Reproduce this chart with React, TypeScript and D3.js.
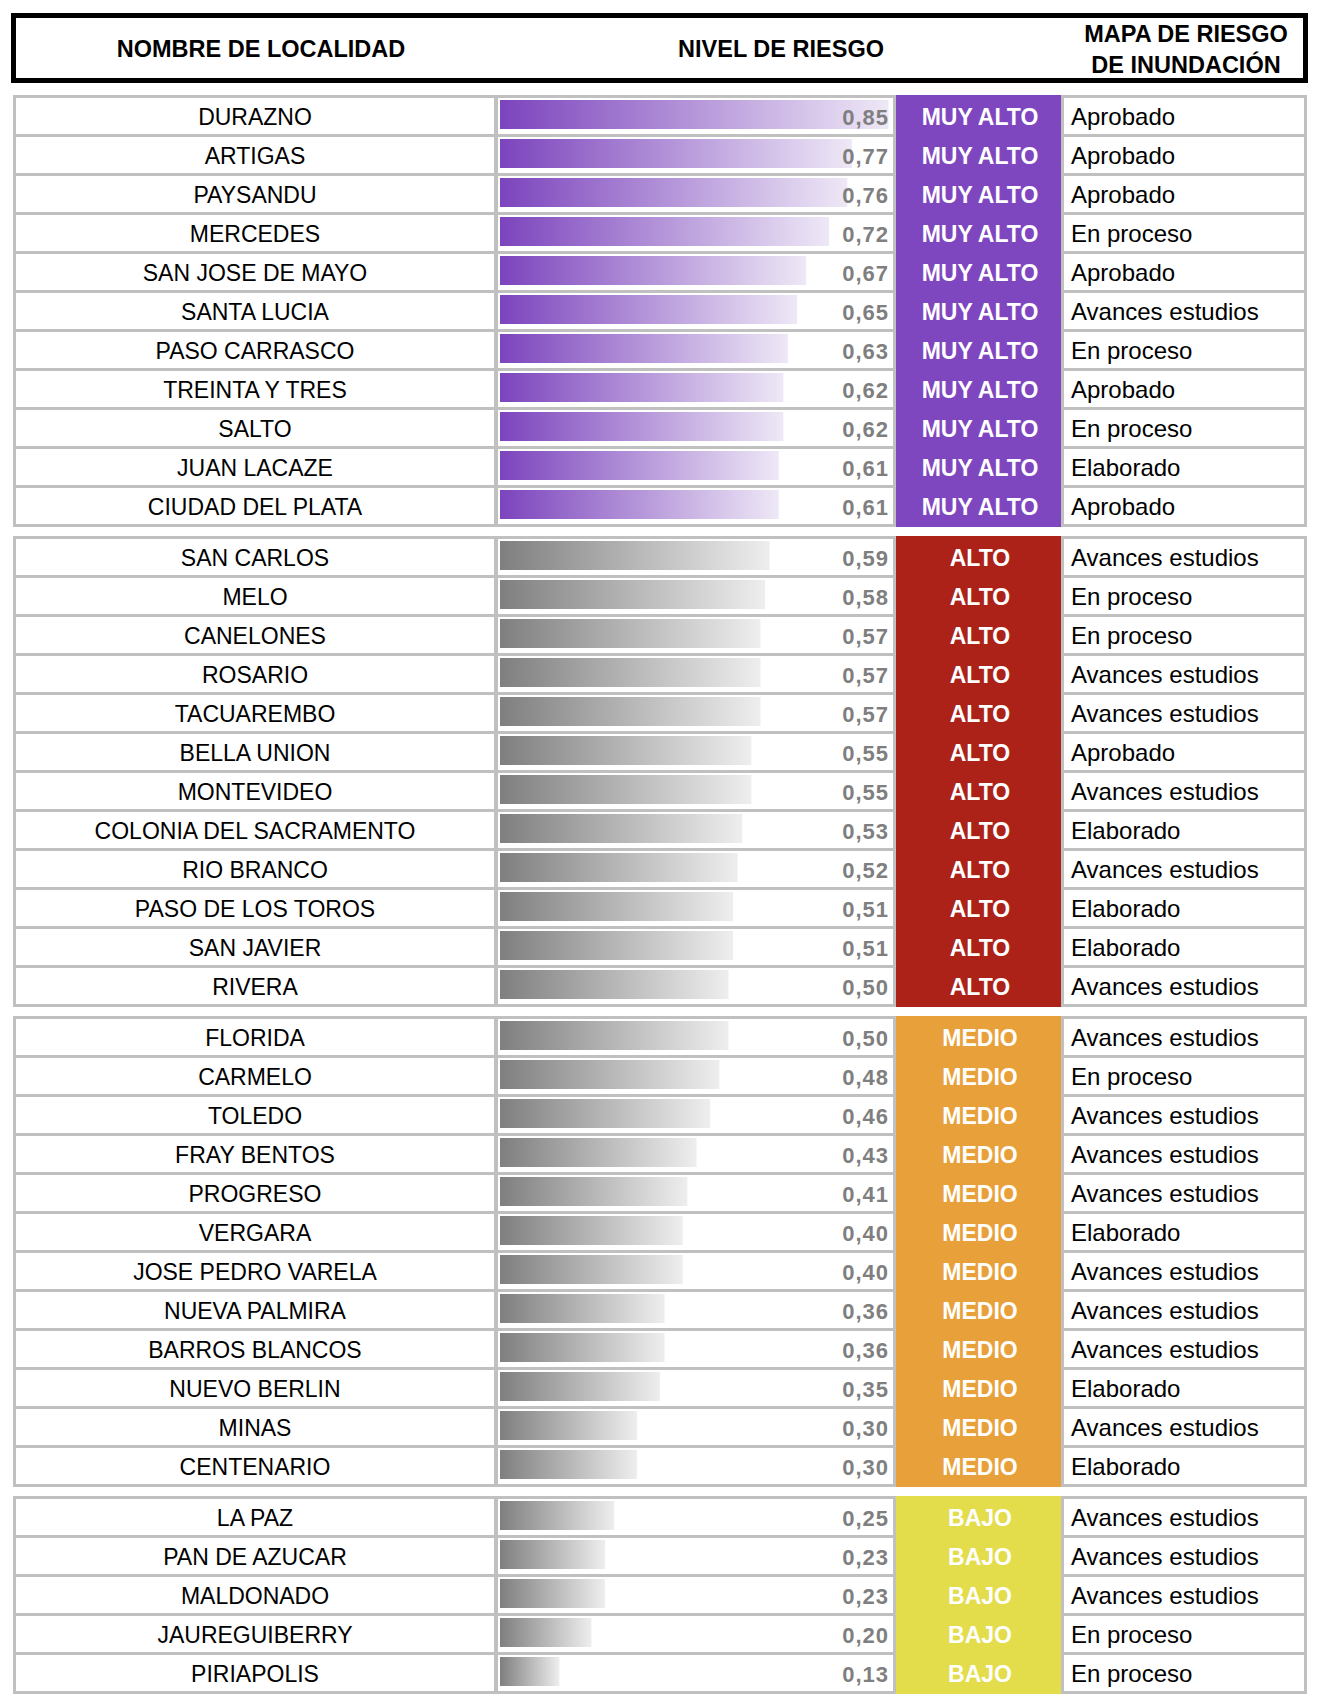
import React from "react";
import * as d3 from "d3";

const localidades = [
  "DURAZNO", "ARTIGAS", "PAYSANDU", "MERCEDES", "SAN JOSE DE MAYO", "SANTA LUCIA",
  "PASO CARRASCO", "TREINTA Y TRES", "SALTO", "JUAN LACAZE", "CIUDAD DEL PLATA",
  "SAN CARLOS", "MELO", "CANELONES", "ROSARIO", "TACUAREMBO", "BELLA UNION",
  "MONTEVIDEO", "COLONIA DEL SACRAMENTO", "RIO BRANCO", "PASO DE LOS TOROS",
  "SAN JAVIER", "RIVERA",
  "FLORIDA", "CARMELO", "TOLEDO", "FRAY BENTOS", "PROGRESO", "VERGARA",
  "JOSE PEDRO VARELA", "NUEVA PALMIRA", "BARROS BLANCOS", "NUEVO BERLIN", "MINAS",
  "CENTENARIO",
  "LA PAZ", "PAN DE AZUCAR", "MALDONADO", "JAUREGUIBERRY", "PIRIAPOLIS",
];

const valores = [
  0.85, 0.77, 0.76, 0.72, 0.67, 0.65, 0.63, 0.62, 0.62, 0.61, 0.61,
  0.59, 0.58, 0.57, 0.57, 0.57, 0.55, 0.55, 0.53, 0.52, 0.51, 0.51, 0.5,
  0.5, 0.48, 0.46, 0.43, 0.41, 0.4, 0.4, 0.36, 0.36, 0.35, 0.3, 0.3,
  0.25, 0.23, 0.23, 0.2, 0.13,
];

const niveles = [
  ...Array(11).fill("MUY ALTO"),
  ...Array(12).fill("ALTO"),
  ...Array(12).fill("MEDIO"),
  ...Array(5).fill("BAJO"),
];

const estados = [
  "Aprobado", "Aprobado", "Aprobado", "En proceso", "Aprobado", "Avances estudios",
  "En proceso", "Aprobado", "En proceso", "Elaborado", "Aprobado",
  "Avances estudios", "En proceso", "En proceso", "Avances estudios", "Avances estudios",
  "Aprobado", "Avances estudios", "Elaborado", "Avances estudios", "Elaborado",
  "Elaborado", "Avances estudios",
  "Avances estudios", "En proceso", "Avances estudios", "Avances estudios",
  "Avances estudios", "Elaborado", "Avances estudios", "Avances estudios",
  "Avances estudios", "Elaborado", "Avances estudios", "Elaborado",
  "Avances estudios", "Avances estudios", "Avances estudios", "En proceso", "En proceso",
];

const grupos = ["MUY ALTO", "ALTO", "MEDIO", "BAJO"];
const coloresNivel = ["#7F47BF", "#AC2218", "#E8A13A", "#E3DC4B"];

const W = 1322;
const H = 1706;
const FONT = "'Liberation Sans', Arial, sans-serif";
const ROW = 39;
const BORDER = 3;
const GAP = 9;
const TOP0 = 95;
const X0 = 13;
const X1 = 1307;
const NAME = [16, 494];
const BAR = [498, 893];
const LEVEL = [896, 1061];
const STATUS = [1064, 1304];
const GRAY = "#C0C0C0";

export default function App() {
  const color = d3.scaleOrdinal<string, string>().domain(grupos).range(coloresNivel);
  const x = d3.scaleLinear().domain([0, 1]).range([500, 500 + 457]);
  const fmt = (v: number) => d3.format(".2f")(v).replace(".", ",");

  const groupInfo: { level: string; start: number; count: number; top: number }[] = [];
  let top = TOP0;
  grupos.forEach((g) => {
    const idx = niveles.map((n, i) => (n === g ? i : -1)).filter((i) => i >= 0);
    groupInfo.push({ level: g, start: idx[0], count: idx.length, top });
    top += idx.length * ROW + BORDER + GAP;
  });

  const rowTop = (i: number) => {
    const gi = groupInfo.find((g) => i >= g.start && i < g.start + g.count)!;
    return gi.top + BORDER + (i - gi.start) * ROW;
  };
  const cellH = ROW - BORDER;

  return (
    <svg
      width={W}
      height={H}
      style={{ position: "absolute", left: 0, top: 0, display: "block", background: "#fff" }}
      fontFamily={FONT}
    >
      <defs>
        <linearGradient id="gPurple" x1="0" x2="1" y1="0" y2="0">
          <stop offset="0%" stopColor="#7C44BD" />
          <stop offset="100%" stopColor="#EEE8F6" />
        </linearGradient>
        <linearGradient id="gGray" x1="0" x2="1" y1="0" y2="0">
          <stop offset="0%" stopColor="#7F7F7F" />
          <stop offset="100%" stopColor="#EEEEEE" />
        </linearGradient>
      </defs>
      <rect width={W} height={H} fill="#fff" />

      <rect x={13.5} y={15.5} width={1292} height={65} fill="#fff" stroke="#000" strokeWidth={5} />
      <g fontWeight="bold" fontSize={23.5} fill="#000">
        <text x={261} y={57} textAnchor="middle">NOMBRE DE LOCALIDAD</text>
        <text x={781} y={57} textAnchor="middle">NIVEL DE RIESGO</text>
        <text x={1186} y={42} textAnchor="middle">MAPA DE RIESGO</text>
        <text x={1186} y={73} textAnchor="middle">DE INUNDACIÓN</text>
      </g>

      {groupInfo.map((g) => {
        const h = g.count * ROW + BORDER;
        return (
          <g key={g.level}>
            <rect x={X0} y={g.top} width={X1 - X0} height={h} fill={GRAY} />
            <rect x={LEVEL[0]} y={g.top} width={LEVEL[1] - LEVEL[0]} height={h} fill={color(g.level)} />
          </g>
        );
      })}

      {localidades.map((name, i) => {
        const y = rowTop(i);
        const cy = y + cellH / 2;
        const lvl = niveles[i];
        const isPurple = lvl === "MUY ALTO";
        return (
          <g key={name}>
            <rect x={NAME[0]} y={y} width={NAME[1] - NAME[0]} height={cellH} fill="#fff" />
            <rect x={BAR[0]} y={y} width={BAR[1] - BAR[0]} height={cellH} fill="#fff" />
            <rect x={STATUS[0]} y={y} width={STATUS[1] - STATUS[0]} height={cellH} fill="#fff" />
            <rect
              x={x(0)}
              y={y + 2}
              width={x(valores[i]) - x(0)}
              height={29}
              fill={isPurple ? "url(#gPurple)" : "url(#gGray)"}
            />
            <text x={(NAME[0] + NAME[1]) / 2} y={cy + 9} textAnchor="middle" fontSize={23} fill="#000">
              {name}
            </text>
            <text x={889} y={cy + 9} textAnchor="end" fontSize={22} fontWeight="bold" fill="#7F7F7F" letterSpacing={1}>
              {fmt(valores[i])}
            </text>
            <text x={980} y={cy + 9} textAnchor="middle" fontSize={23} fontWeight="bold" fill="#fff">
              {lvl}
            </text>
            <text x={1071} y={cy + 9} fontSize={24} fill="#000">
              {estados[i]}
            </text>
          </g>
        );
      })}
    </svg>
  );
}
